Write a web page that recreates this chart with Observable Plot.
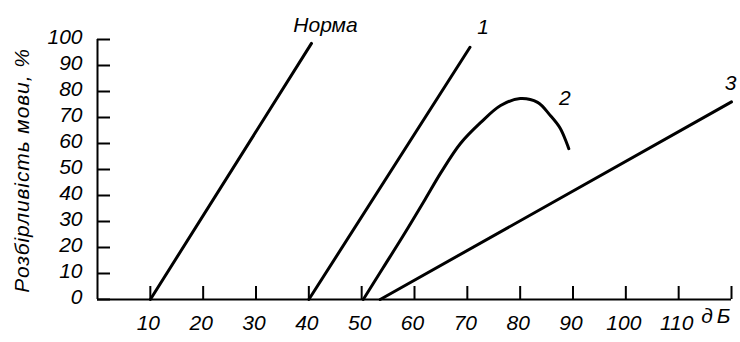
<!DOCTYPE html>
<html><head><meta charset="utf-8">
<script src="https://cdn.jsdelivr.net/npm/d3@7"></script>
<script src="https://cdn.jsdelivr.net/npm/@observablehq/plot@0.6"></script>
<style>
body{margin:0;background:#fff}
svg{overflow:visible;background:#fff;color:#000}
svg.ref-chart text{font-family:'Liberation Sans', Arial, sans-serif !important;font-style:italic !important;font-size:21px !important;fill:#000}
svg.ref-chart g.ytitle text{letter-spacing:0.9px}
svg.ref-chart g.unit text{letter-spacing:4px}
</style>
</head><body><div id="chart"></div>
<script>
// ---- data ----
const seriesNames = ["Норма", "1", "2", "3"];
const normaX = [10, 40.5];
const normaY = [0, 98.5];
const line1X = [40, 70.5];
const line1Y = [0, 97];
const line2X = [50.3, 54, 58, 62, 65, 68.7, 72.5, 76.3, 80, 83.3, 85.7, 87.6, 89.2];
const line2Y = [0, 12, 25, 38.5, 48.8, 60, 68, 74.6, 77.3, 75.8, 70.8, 65.8, 58];
const line3X = [53.5, 120];
const line3Y = [0, 76];
const xTicks = [10, 20, 30, 40, 50, 60, 70, 80, 90, 100, 110, 120];
const xTickLabels = ["10", "20", "30", "40", "50", "60", "70", "80", "90", "100", "110", ""];
const yTicks = [0, 10, 20, 30, 40, 50, 60, 70, 80, 90, 100];
const yTitle = "Розбірливість мови, %";
const xUnit = "дБ";

// ---- build tables ----
const seriesX = [normaX, line1X, line2X, line3X];
const seriesY = [normaY, line1Y, line2Y, line3Y];
const rows = [];
seriesNames.forEach((name, s) => {
  seriesX[s].forEach((x, i) => rows.push({series: name, x, y: seriesY[s][i]}));
});
const ends = seriesNames.map((name, s) => ({
  series: name,
  x: seriesX[s][seriesX[s].length - 1],
  y: seriesY[s][seriesY[s].length - 1]
}));
const xLabelMap = new Map(xTicks.map((t, i) => [t, xTickLabels[i]]));

const labelOffsets = [[14, -18], [13, -20], [-4, -50], [-1, -19]];
const FS = 21;

const chart = Plot.plot({
  width: 740,
  height: 342,
  marginLeft: 97,
  marginRight: 9,
  marginTop: 39,
  marginBottom: 43,
  className: "ref-chart",
  x: {domain: [0, 120]},
  y: {domain: [0, 100]},
  marks: [
    Plot.axisX({ticks: xTicks, tickSize: -13, tickFormat: () => "", strokeWidth: 2, label: null}),
    Plot.axisX({ticks: xTicks, tickSize: 0, tickPadding: 16, dx: -2, tickFormat: d => xLabelMap.get(d), fontSize: FS, label: null}),
    Plot.axisY({ticks: yTicks, tickSize: -13, tickFormat: () => "", strokeWidth: 2, label: null}),
    Plot.axisY({ticks: yTicks, tickSize: 0, tickPadding: 15, dy: -2, fontSize: FS, label: null}),
    Plot.ruleY([0], {stroke: "#000", strokeWidth: 2}),
    Plot.ruleX([0], {stroke: "#000", strokeWidth: 2}),
    Plot.line(rows, {x: "x", y: "y", z: "series", curve: "catmull-rom", stroke: "#000", strokeWidth: 3}),
    ...ends.map((e, i) => Plot.text([e], {x: "x", y: "y", text: "series", dx: labelOffsets[i][0], dy: labelOffsets[i][1], fontSize: FS, fill: "#000"})),
    Plot.text([xUnit], {frameAnchor: "bottom-right", textAnchor: "end", dx: 3, dy: 23, fontSize: FS, fill: "#000", className: "unit"}),
    Plot.text([yTitle], {frameAnchor: "left", textAnchor: "middle", rotate: -90, dx: -75, dy: 1, fontSize: FS, fill: "#000", className: "ytitle"})
  ]
});
document.getElementById("chart").appendChild(chart);
// force style/layout resolution before the page is photographed
chart.querySelectorAll("text").forEach(t => { getComputedStyle(t).fontSize; t.getBoundingClientRect(); });
</script>
</body></html>
